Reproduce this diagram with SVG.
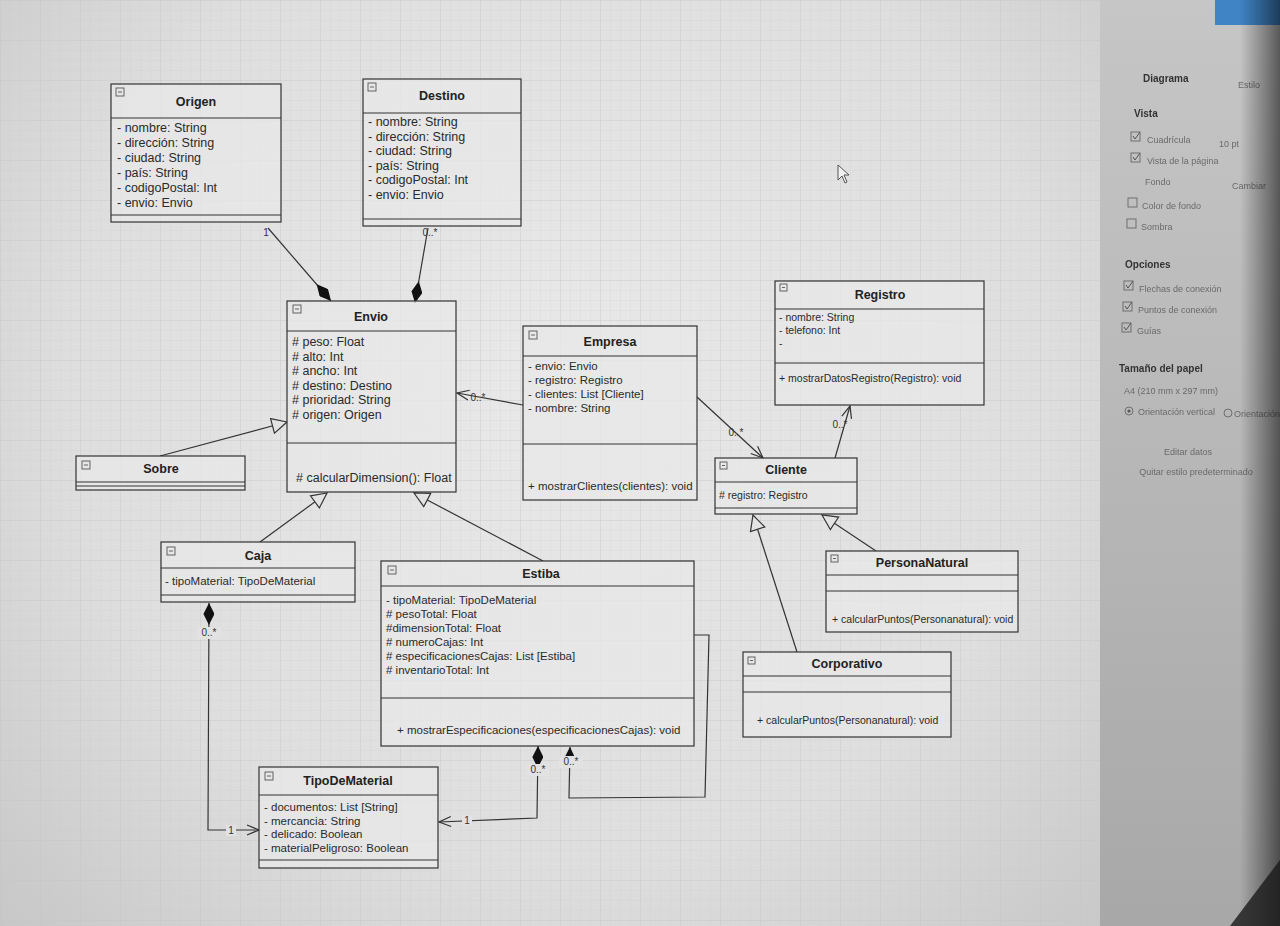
<svg xmlns="http://www.w3.org/2000/svg" width="1280" height="926" viewBox="0 0 1280 926">
<defs>
  <radialGradient id="bg" cx="560" cy="380" r="820" gradientUnits="userSpaceOnUse">
    <stop offset="0" stop-color="#e9e9e9"/>
    <stop offset="0.6" stop-color="#dedede"/>
    <stop offset="1" stop-color="#c4c4c4"/>
  </radialGradient>
  <linearGradient id="panel" x1="0" y1="0" x2="0" y2="1">
    <stop offset="0" stop-color="#c6c6c6"/>
    <stop offset="1" stop-color="#a8a8a8"/>
  </linearGradient>
  <linearGradient id="edge" x1="0" y1="0" x2="1" y2="0">
    <stop offset="0" stop-color="#000" stop-opacity="0"/>
    <stop offset="1" stop-color="#000" stop-opacity="0.55"/>
  </linearGradient>
  <pattern id="grid" width="10" height="10" patternUnits="userSpaceOnUse">
    <path d="M10,0 L0,0 0,10" fill="none" stroke="#c9c9c9" stroke-width="0.6" stroke-opacity="0.6"/>
  </pattern>
  <pattern id="grid4" width="40" height="40" patternUnits="userSpaceOnUse">
    <path d="M40,0 L0,0 0,40" fill="none" stroke="#c2c2c2" stroke-width="0.8" stroke-opacity="0.6"/>
  </pattern>
  <filter id="blur"><feGaussianBlur stdDeviation="0.7"/></filter>
  <marker id="diamond" viewBox="0 0 22 11" markerWidth="22" markerHeight="11" refX="22" refY="5.5" orient="auto-start-reverse" markerUnits="userSpaceOnUse">
    <path d="M0,5.5 L11,0 L22,5.5 L11,11 Z" fill="#111"/>
  </marker>
  <marker id="tri" viewBox="0 0 17 17" markerWidth="17" markerHeight="17" refX="16" refY="8.5" orient="auto" markerUnits="userSpaceOnUse">
    <path d="M1,1 L16,8.5 L1,16 Z" fill="#e3e3e3" stroke="#333" stroke-width="1.2"/>
  </marker>
  <marker id="open" viewBox="0 0 14 12" markerWidth="14" markerHeight="12" refX="13" refY="6" orient="auto" markerUnits="userSpaceOnUse">
    <path d="M1,1 L13,6 L1,11" fill="none" stroke="#333" stroke-width="1.2"/>
  </marker>
  <marker id="block" viewBox="0 0 9 9" markerWidth="9" markerHeight="9" refX="9" refY="4.5" orient="auto" markerUnits="userSpaceOnUse">
    <path d="M0,0 L9,4.5 L0,9 Z" fill="#111"/>
  </marker>
  <style>
    .box{fill:#e8e8e8;fill-opacity:0.75;stroke:#333;stroke-width:1.2}
    .ln{stroke:#333;stroke-width:1.2;fill:none}
    .ttl{font-family:"Liberation Sans",Arial,sans-serif;font-weight:bold;font-size:12.5px;fill:#222;text-anchor:middle}
    .at{font-family:"Liberation Sans",Arial,sans-serif;font-size:12.5px;fill:#2a2a2a}
    .sm{font-size:11.5px}
    .xs{font-size:10.5px}
    .ic{fill:none;stroke:#555;stroke-width:0.9}
    .conn{stroke:#333;stroke-width:1.2;fill:none}
    .lbl{font-family:"Liberation Sans",Arial,sans-serif;font-size:10px;fill:#333;text-anchor:middle}
    .lbg{fill:#e2e2e2}
    .pt{font-family:"Liberation Sans",Arial,sans-serif;font-size:9px;fill:#6a6a6a}
    .pb{font-family:"Liberation Sans",Arial,sans-serif;font-size:10px;font-weight:bold;fill:#333}
    .cb{fill:none;stroke:#666;stroke-width:0.9}
    .ck{fill:none;stroke:#555;stroke-width:1}
  </style>
</defs>

<!-- canvas -->
<rect x="0" y="0" width="1280" height="926" fill="url(#bg)"/>
<rect x="0" y="0" width="1100" height="926" fill="url(#grid)"/>
<rect x="0" y="0" width="1100" height="926" fill="url(#grid4)"/>

<!-- right panel -->
<g id="panel" filter="url(#blur)">
  <rect x="1100" y="0" width="180" height="926" fill="url(#panel)"/>
  <rect x="1215" y="0" width="65" height="25" fill="#3f84c6"/>
  <text class="pb" x="1143" y="82" font-size="11">Diagrama</text>
  <text class="pt" x="1238" y="88" fill="#444">Estilo</text>
  <text class="pb" x="1134" y="117" font-size="9">Vista</text>
  <rect class="cb" x="1131" y="132" width="9" height="9"/><path class="ck" d="M1133,136 L1135,139 L1140,132"/>
  <text class="pt" x="1147" y="143">Cuadrícula</text>
  <text class="pt" x="1219" y="147" fill="#444">10 pt</text>
  <rect class="cb" x="1131" y="153" width="9" height="9"/><path class="ck" d="M1133,157 L1135,160 L1140,153"/>
  <text class="pt" x="1147" y="164">Vista de la página</text>
  <text class="pt" x="1145" y="185">Fondo</text>
  <text class="pt" x="1232" y="189" fill="#555">Cambiar</text>
  <rect class="cb" x="1128" y="198" width="9" height="9"/>
  <text class="pt" x="1142" y="209">Color de fondo</text>
  <rect class="cb" x="1127" y="219" width="9" height="9"/>
  <text class="pt" x="1141" y="230">Sombra</text>
  <text class="pb" x="1125" y="268" font-size="9">Opciones</text>
  <rect class="cb" x="1124" y="281" width="9" height="9"/><path class="ck" d="M1126,285 L1128,288 L1133,281"/>
  <text class="pt" x="1139" y="292">Flechas de conexión</text>
  <rect class="cb" x="1123" y="302" width="9" height="9"/><path class="ck" d="M1125,306 L1127,309 L1132,302"/>
  <text class="pt" x="1138" y="313">Puntos de conexión</text>
  <rect class="cb" x="1122" y="323" width="9" height="9"/><path class="ck" d="M1124,327 L1126,330 L1131,323"/>
  <text class="pt" x="1137" y="334">Guías</text>
  <text class="pb" x="1119" y="372" font-size="9">Tamaño del papel</text>
  <text class="pt" x="1124" y="394">A4 (210 mm x 297 mm)</text>
  <circle cx="1129" cy="411" r="4" class="cb"/>
  <circle cx="1129" cy="411" r="1.6" fill="#555"/>
  <text class="pt" x="1138" y="415" font-size="8.5">Orientación vertical</text>
  <circle cx="1228" cy="413" r="4" class="cb"/>
  <text class="pt" x="1234" y="417" font-size="7.5">Orientación</text>
  <text class="pt" x="1188" y="455" text-anchor="middle" fill="#555">Editar datos</text>
  <text class="pt" x="1196" y="475" text-anchor="middle" fill="#555">Quitar estilo predeterminado</text>
</g>
<rect x="1240" y="0" width="40" height="926" fill="url(#edge)"/>
<path d="M1230,926 L1280,860 L1280,926 Z" fill="#1a1a1a" opacity="0.8"/>

<!-- cursor -->
<path d="M838,165 L838,180 L842,176 L845,183 L847,182 L844,175 L849,175 Z" fill="#f2f2f2" stroke="#444" stroke-width="0.9"/>

<!-- connectors -->
<g id="connectors">
  <path class="conn" d="M268,228 L331,301" marker-end="url(#diamond)"/>
  <path class="conn" d="M428,228 L415,303" marker-end="url(#diamond)"/>
  <path class="conn" d="M160,456 L287,422" marker-end="url(#tri)"/>
  <path class="conn" d="M260,542 L327,493" marker-end="url(#tri)"/>
  <path class="conn" d="M543,561 L414,493" marker-end="url(#tri)"/>
  <path class="conn" d="M523,405 L457,393" marker-end="url(#open)"/>
  <path class="conn" d="M697,397 L763,458" marker-end="url(#open)"/>
  <path class="conn" d="M835,458 L850,406" marker-end="url(#open)"/>
  <path class="conn" d="M876,551 L822,515" marker-end="url(#tri)"/>
  <path class="conn" d="M797,652 L753,515" marker-end="url(#tri)"/>
  <path class="conn" d="M209,603 L208,830 L259,830" marker-start="url(#diamond)" marker-end="url(#open)"/>
  <path class="conn" d="M538,746 L537,818 L439,822" marker-start="url(#diamond)" marker-end="url(#open)"/>
  <path class="conn" d="M694,635 L709,635 L705,797 L569,798 L570,747" marker-end="url(#block)"/>
  <!-- labels -->
  <text class="lbl" x="266" y="236">1</text>
  <text class="lbl" x="430" y="236">0..*</text>
  <text class="lbl" x="478" y="401">0..*</text>
  <text class="lbl" x="736" y="436">0..*</text>
  <text class="lbl" x="840" y="428">0..*</text>
  <rect class="lbg" x="197" y="627" width="24" height="12"/>
  <text class="lbl" x="209" y="636">0..*</text>
  <rect class="lbg" x="226" y="825" width="10" height="11"/>
  <text class="lbl" x="231" y="834">1</text>
  <rect class="lbg" x="526" y="764" width="24" height="12"/>
  <text class="lbl" x="538" y="773">0..*</text>
  <rect class="lbg" x="462" y="815" width="10" height="11"/>
  <text class="lbl" x="467" y="824">1</text>
  <rect class="lbg" x="559" y="756" width="24" height="12"/>
  <text class="lbl" x="571" y="765">0..*</text>
</g>

<!-- nodes -->
<g id="origen">
  <rect class="box" x="111" y="84" width="170" height="138"/>
  <path class="ln" d="M111,118 H281 M111,215 H281"/>
  <rect class="ic" x="116" y="88" width="8" height="8"/><path class="ic" d="M118,92 H122"/>
  <text class="ttl" x="196" y="106">Origen</text>
  <text class="at" x="117" y="132">- nombre: String</text>
  <text class="at" x="117" y="147">- dirección: String</text>
  <text class="at" x="117" y="162">- ciudad: String</text>
  <text class="at" x="117" y="177">- país: String</text>
  <text class="at" x="117" y="192">- codigoPostal: Int</text>
  <text class="at" x="117" y="207">- envio: Envio</text>
</g>

<g id="destino">
  <rect class="box" x="363" y="79" width="158" height="147"/>
  <path class="ln" d="M363,113 H521 M363,219 H521"/>
  <rect class="ic" x="368" y="83" width="8" height="8"/><path class="ic" d="M370,87 H374"/>
  <text class="ttl" x="442" y="100">Destino</text>
  <text class="at" x="368" y="126">- nombre: String</text>
  <text class="at" x="368" y="140.5">- dirección: String</text>
  <text class="at" x="368" y="155">- ciudad: String</text>
  <text class="at" x="368" y="169.5">- país: String</text>
  <text class="at" x="368" y="184">- codigoPostal: Int</text>
  <text class="at" x="368" y="198.5">- envio: Envio</text>
</g>

<g id="envio">
  <rect class="box" x="287" y="301" width="169" height="191"/>
  <path class="ln" d="M287,331 H456 M287,443 H456"/>
  <rect class="ic" x="293" y="305" width="8" height="8"/><path class="ic" d="M295,309 H299"/>
  <text class="ttl" x="371" y="321">Envio</text>
  <text class="at" x="292" y="346"># peso: Float</text>
  <text class="at" x="292" y="360.5"># alto: Int</text>
  <text class="at" x="292" y="375"># ancho: Int</text>
  <text class="at" x="292" y="389.5"># destino: Destino</text>
  <text class="at" x="292" y="404"># prioridad: String</text>
  <text class="at" x="292" y="418.5"># origen: Origen</text>
  <text class="at" x="296" y="482"># calcularDimension(): Float</text>
</g>

<g id="empresa">
  <rect class="box" x="523" y="326" width="174" height="174"/>
  <path class="ln" d="M523,356 H697 M523,444 H697"/>
  <rect class="ic" x="529" y="331" width="8" height="8"/><path class="ic" d="M531,335 H535"/>
  <text class="ttl" x="610" y="346">Empresa</text>
  <text class="at sm" x="528" y="370">- envio: Envio</text>
  <text class="at sm" x="528" y="384">- registro: Registro</text>
  <text class="at sm" x="528" y="398">- clientes: List [Cliente]</text>
  <text class="at sm" x="528" y="412">- nombre: String</text>
  <text class="at sm" x="528" y="490">+ mostrarClientes(clientes): void</text>
</g>

<g id="registro">
  <rect class="box" x="775" y="281" width="209" height="124"/>
  <path class="ln" d="M775,309 H984 M775,363 H984"/>
  <rect class="ic" x="780" y="284" width="7" height="7"/><path class="ic" d="M782,287.5 H785"/>
  <text class="ttl" x="880" y="299" font-size="11px">Registro</text>
  <text class="at xs" x="779" y="321">- nombre: String</text>
  <text class="at xs" x="779" y="334">- telefono: Int</text>
  <text class="at xs" x="779" y="347">-</text>
  <text class="at xs" x="779" y="382">+ mostrarDatosRegistro(Registro): void</text>
</g>

<g id="cliente">
  <rect class="box" x="715" y="458" width="142" height="56"/>
  <path class="ln" d="M715,482 H857 M715,508 H857"/>
  <rect class="ic" x="720" y="462" width="7" height="7"/><path class="ic" d="M722,465.5 H725"/>
  <text class="ttl" x="786" y="474" font-size="11px">Cliente</text>
  <text class="at xs" x="719" y="499"># registro: Registro</text>
</g>

<g id="personanatural">
  <rect class="box" x="826" y="551" width="192" height="81"/>
  <path class="ln" d="M826,575 H1018 M826,591 H1018"/>
  <rect class="ic" x="831" y="555" width="7" height="7"/><path class="ic" d="M833,558.5 H836"/>
  <text class="ttl" x="922" y="567" font-size="10.5px">PersonaNatural</text>
  <text class="at xs" x="832" y="623">+ calcularPuntos(Personanatural): void</text>
</g>

<g id="corporativo">
  <rect class="box" x="743" y="652" width="208" height="85"/>
  <path class="ln" d="M743,676 H951 M743,692 H951"/>
  <rect class="ic" x="748" y="657" width="7" height="7"/><path class="ic" d="M750,660.5 H753"/>
  <text class="ttl" x="847" y="668" font-size="11px">Corporativo</text>
  <text class="at xs" x="757" y="724">+ calcularPuntos(Personanatural): void</text>
</g>

<g id="sobre">
  <rect class="box" x="76" y="456" width="169" height="34"/>
  <path class="ln" d="M76,482 H245 M76,486 H245"/>
  <rect class="ic" x="82" y="461" width="8" height="8"/><path class="ic" d="M84,465 H88"/>
  <text class="ttl" x="161" y="473">Sobre</text>
</g>

<g id="caja">
  <rect class="box" x="161" y="542" width="194" height="60"/>
  <path class="ln" d="M161,568 H355 M161,595 H355"/>
  <rect class="ic" x="167" y="547" width="8" height="8"/><path class="ic" d="M169,551 H173"/>
  <text class="ttl" x="258" y="560">Caja</text>
  <text class="at sm" x="165" y="585">- tipoMaterial: TipoDeMaterial</text>
</g>

<g id="estiba">
  <rect class="box" x="381" y="561" width="313" height="185"/>
  <path class="ln" d="M381,586 H694 M381,698 H694"/>
  <rect class="ic" x="388" y="566" width="8" height="8"/><path class="ic" d="M390,570 H394"/>
  <text class="ttl" x="541" y="578" font-size="11.5px">Estiba</text>
  <text class="at sm" x="386" y="604">- tipoMaterial: TipoDeMaterial</text>
  <text class="at sm" x="386" y="618"># pesoTotal: Float</text>
  <text class="at sm" x="386" y="632">#dimensionTotal: Float</text>
  <text class="at sm" x="386" y="646"># numeroCajas: Int</text>
  <text class="at sm" x="386" y="660"># especificacionesCajas: List [Estiba]</text>
  <text class="at sm" x="386" y="674"># inventarioTotal: Int</text>
  <text class="at sm" x="397" y="734">+ mostrarEspecificaciones(especificacionesCajas): void</text>
</g>

<g id="tipodematerial">
  <rect class="box" x="259" y="767" width="179" height="101"/>
  <path class="ln" d="M259,795 H438 M259,860 H438"/>
  <rect class="ic" x="265" y="772" width="8" height="8"/><path class="ic" d="M267,776 H271"/>
  <text class="ttl" x="348" y="785" font-size="11.5px">TipoDeMaterial</text>
  <text class="at sm" x="264" y="811">- documentos: List [String]</text>
  <text class="at sm" x="264" y="824.5">- mercancia: String</text>
  <text class="at sm" x="264" y="838">- delicado: Boolean</text>
  <text class="at sm" x="264" y="851.5">- materialPeligroso: Boolean</text>
</g>
</svg>
